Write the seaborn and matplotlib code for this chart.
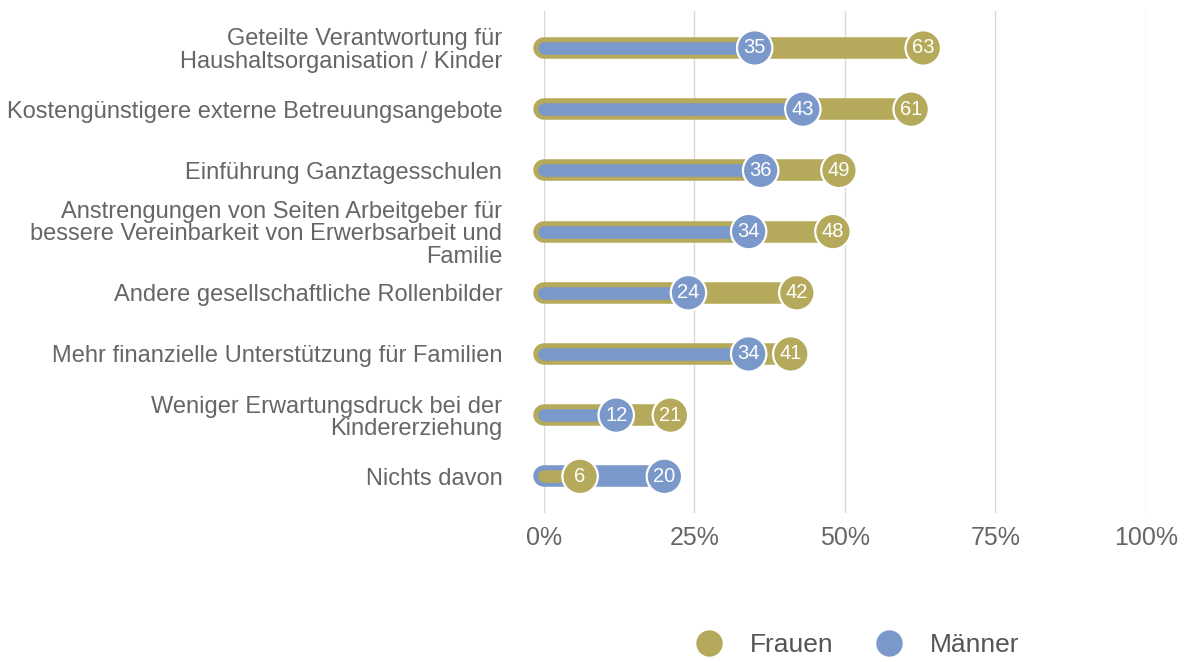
import numpy as np
import pandas as pd
import matplotlib
matplotlib.use('Agg')
import matplotlib.pyplot as plt
import seaborn as sns

# ------------------------------------------------------------
# data
# ------------------------------------------------------------
categories = [
    'Geteilte Verantwortung für\nHaushaltsorganisation / Kinder',
    'Kostengünstigere externe Betreuungsangebote',
    'Einführung Ganztagesschulen',
    'Anstrengungen von Seiten Arbeitgeber für\nbessere Vereinbarkeit von Erwerbsarbeit und\nFamilie',
    'Andere gesellschaftliche Rollenbilder',
    'Mehr finanzielle Unterstützung für Familien',
    'Weniger Erwartungsdruck bei der\nKindererziehung',
    'Nichts davon',
]
frauen = [63, 61, 49, 48, 42, 41, 21, 6]
maenner = [35, 43, 36, 34, 24, 34, 12, 20]
x_ticks = [0, 25, 50, 75, 100]
x_ticklabels = ['0%', '25%', '50%', '75%', '100%']

colors = {'Frauen': '#b5aa5b', 'Männer': '#7b98ca'}
text_grey = '#666666'

sns.set_theme(style='white')
plt.rcParams['font.family'] = ['Liberation Sans', 'DejaVu Sans']

fig = plt.figure(figsize=(11.89, 6.62), dpi=100)
ax = fig.add_axes([0.4575, 0.225, 0.5063, 0.758])

pos = np.arange(len(categories))

# bars: the larger value as a thick rounded bar, the smaller one inside
for i, (f, m) in enumerate(zip(frauen, maenner)):
    if f >= m:
        big, small = ('Frauen', f), ('Männer', m)
    else:
        big, small = ('Männer', m), ('Frauen', f)
    ax.plot([0, big[1]], [i, i], color=colors[big[0]], lw=15.5,
            solid_capstyle='round', zorder=2, clip_on=False)
    ax.plot([0, small[1]], [i, i], color=colors[small[0]], lw=9,
            solid_capstyle='round', zorder=3, clip_on=False)

# end points
df = pd.DataFrame({
    'value': maenner + frauen,
    'pos': list(pos) + list(pos),
    'Gruppe': ['Männer'] * len(maenner) + ['Frauen'] * len(frauen),
})
sns.scatterplot(data=df, x='value', y='pos', hue='Gruppe',
                hue_order=['Frauen', 'Männer'], palette=colors,
                s=650, edgecolor='white', linewidth=1.6, zorder=4,
                clip_on=False, ax=ax)
for _, r in df.iterrows():
    ax.text(r['value'], r['pos'], str(r['value']), color='white',
            ha='center', va='center', fontsize=14.5, zorder=5)

ax.set_xlim(0, 100)
ax.set_ylim(len(categories) - 0.4, -0.6)
ax.set_xticks(x_ticks)
ax.set_xticklabels(x_ticklabels, fontsize=18, color=text_grey)
ax.set_yticks(pos)
ax.set_yticklabels(categories, fontsize=17, color=text_grey,
                   linespacing=1.02)
ax.tick_params(axis='y', length=0, pad=30)
ax.tick_params(axis='x', length=0, pad=9)
ax.set_xlabel('')
ax.set_ylabel('')
ax.grid(axis='x', color='#d9d9d9', lw=1)
ax.grid(axis='y', visible=False)
ax.set_axisbelow(True)
for s in ax.spines.values():
    s.set_visible(False)

handles, labels = ax.get_legend_handles_labels()
ax.get_legend().remove()
for h in handles:
    h.set_markersize(19)
    h.set_markeredgewidth(0)
fig.legend(handles, labels, loc='lower center', bbox_to_anchor=(0.716, -0.028),
           ncol=2, frameon=False, fontsize=19, handletextpad=0.55,
           columnspacing=1.1, labelcolor='#555555')

fig.savefig('out.png', dpi=100)
